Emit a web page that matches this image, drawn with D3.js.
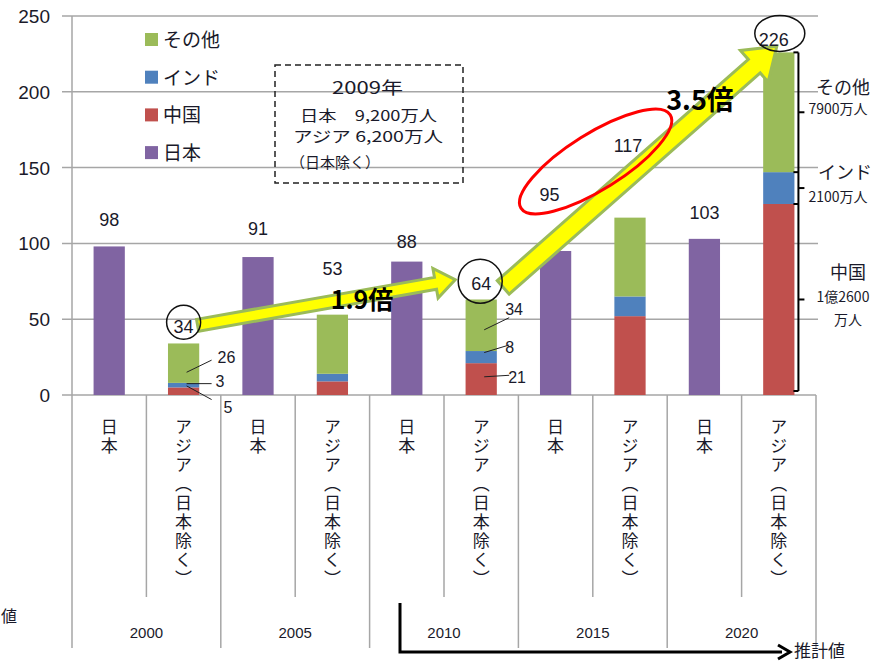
<!DOCTYPE html>
<html>
<head>
<meta charset="utf-8">
<script src="https://cdn.jsdelivr.net/npm/d3@7"></script>
<style>
body { margin:0; background:#fff; }
svg text { font-family: "Liberation Sans", "Noto Sans CJK JP", sans-serif; fill:#1a1a2a; }
.jp { font-family: "Noto Sans CJK JP", sans-serif; }
</style>
</head>
<body>
<div id="graph"></div>
<script>
// data
var years = ['2000', '2005', '2010', '2015', '2020']
var japan = [98, 91, 88, 95, 103]
var china = [5, 9, 21, 52, 126]
var india = [3, 5, 8, 13, 21]
var other = [26, 39, 34, 52, 79]
var asiaTotals = [34, 53, 64, 117, 226]
var seriesNames = ['その他', 'インド', '中国', '日本']
var yTicks = [0, 50, 100, 150, 200, 250]
var catLabelJp = '日本'
var catLabelAsia = 'アジア（日本除く）'

var colors = { '日本':'#8064A2', '中国':'#C0504D', 'インド':'#4F81BD', 'その他':'#9BBB59' }

var W = 875, H = 662
var svg = d3.select('#graph').append('svg')
	.attr('width', W).attr('height', H)

var cats = []
years.forEach(function(y){ cats.push(y + '-jp'); cats.push(y + '-as') })

var x = d3.scaleBand().domain(cats).range([72, 816]).paddingInner(0.58).paddingOuter(0.29)
var y = d3.scaleLinear().domain([0, 250]).range([395, 16])
var step = x.step()
function xc(c){ return x(c) + x.bandwidth()/2 }
function edge(i){ return 72 + i*step }

// gridlines + y labels
svg.append('g').selectAll('line').data(yTicks.slice(1)).enter().append('line')
	.attr('x1', 62).attr('x2', 818)
	.attr('y1', function(d){ return y(d) }).attr('y2', function(d){ return y(d) })
	.attr('stroke', '#a6a6a6').attr('stroke-width', 1.5)
svg.append('line').attr('x1', 62).attr('x2', 816).attr('y1', y(0)).attr('y2', y(0))
	.attr('stroke', '#a6a6a6').attr('stroke-width', 1.5)
svg.append('line').attr('x1', 72).attr('x2', 72).attr('y1', y(250)).attr('y2', y(0))
	.attr('stroke', '#a6a6a6').attr('stroke-width', 1.5)
svg.append('g').selectAll('text').data(yTicks).enter().append('text')
	.attr('x', 50).attr('y', function(d){ return y(d) + 7 })
	.attr('text-anchor', 'end').attr('font-size', 19)
	.text(function(d){ return d })

// category dividers
for (var i = 0; i <= cats.length; i++) {
	svg.append('line').attr('x1', edge(i)).attr('x2', edge(i))
		.attr('y1', y(0)).attr('y2', i % 2 == 0 ? 648 : 597)
		.attr('stroke', '#a6a6a6').attr('stroke-width', 1.5)
}
years.forEach(function(yr, i){
	svg.append('text').attr('x', edge(i*2+1)).attr('y', 638)
		.attr('text-anchor', 'middle').attr('font-size', 15).text(yr)
})
// vertical labels
cats.forEach(function(c){
	var label = c.indexOf('-jp') > 0 ? catLabelJp : catLabelAsia
	svg.append('text').attr('class', 'jp')
		.attr('x', xc(c)).attr('y', 418)
		.style('writing-mode', 'vertical-rl')
		.style('letter-spacing', '2px')
		.attr('font-size', 17)
		.text(label)
})

// bars
var bars = svg.append('g')
years.forEach(function(yr, i){
	var cj = yr + '-jp', ca = yr + '-as'
	bars.append('rect').attr('x', x(cj)).attr('width', x.bandwidth())
		.attr('y', y(japan[i])).attr('height', y(0) - y(japan[i]))
		.attr('fill', colors['日本'])
	var base = 0
	;[['中国', china[i]], ['インド', india[i]], ['その他', other[i]]].forEach(function(s){
		bars.append('rect').attr('x', x(ca)).attr('width', x.bandwidth())
			.attr('y', y(base + s[1])).attr('height', y(base) - y(base + s[1]))
			.attr('fill', colors[s[0]])
		base += s[1]
	})
})

// legend
seriesNames.forEach(function(n, i){
	var ly = 40 + i*37.7
	svg.append('rect').attr('x', 145).attr('y', ly - 7).attr('width', 13).attr('height', 13).attr('fill', colors[n])
	svg.append('text').attr('class', 'jp').attr('x', 163).attr('y', ly + 7).attr('font-size', 19).text(n)
})

// note box
svg.append('rect').attr('x', 275).attr('y', 65).attr('width', 188).attr('height', 118)
	.attr('fill', 'none').attr('stroke', '#222').attr('stroke-width', 1.5).attr('stroke-dasharray', '6,4')
var note = [['2009年', 332, 94, 17, 71], ['日本　9,200万人', 300, 121, 15, 137], ['アジア 6,200万人', 293, 142, 15, 150], ['（日本除く）', 290, 168, 15, 90]]
note.forEach(function(t){
	svg.append('text').attr('class', 'jp').attr('x', t[1]).attr('y', t[2])
		.attr('font-size', t[3]).attr('textLength', t[4]).attr('lengthAdjust', 'spacingAndGlyphs')
		.text(t[0])
})

// arrows
function arrow(x0, y0, x1, y1, bw, hw, hl) {
	var dx = x1 - x0, dy = y1 - y0, L = Math.sqrt(dx*dx + dy*dy)
	var ux = dx/L, uy = dy/L, nx = -uy, ny = ux
	var bx = x1 - ux*hl, by = y1 - uy*hl
	var pts = [
		[x0 + nx*bw/2, y0 + ny*bw/2], [bx + nx*bw/2, by + ny*bw/2], [bx + nx*hw/2, by + ny*hw/2],
		[x1, y1], [bx - nx*hw/2, by - ny*hw/2], [bx - nx*bw/2, by - ny*bw/2], [x0 - nx*bw/2, y0 - ny*bw/2]
	]
	svg.append('path').attr('d', d3.line()(pts) + 'Z')
		.attr('fill', '#FFFF00').attr('stroke', '#9BBB59').attr('stroke-width', 3).attr('stroke-linejoin', 'miter')
}
arrow(xc('2000-as') + 14, y(46), xc('2010-as') - 26, y(76), 12, 30, 20)
arrow(xc('2010-as') + 22, y(71), xc('2020-as') - 2, y(230), 18, 42, 30)

svg.append('text').attr('class', 'jp').attr('x', 362).attr('y', 309).attr('text-anchor', 'middle')
	.attr('font-size', 25).attr('font-weight', 'bold').style('fill', '#000').text('1.9倍')
svg.append('text').attr('class', 'jp').attr('x', 700).attr('y', 110).attr('text-anchor', 'middle')
	.attr('font-size', 27).attr('font-weight', 'bold').style('fill', '#000').text('3.5倍')

// value labels
var jpOff = [-20, -22, -14, -50, -20]
var asOff = [-10, -40, -8, -66, -6]
years.forEach(function(yr, i){
	svg.append('text').attr('x', xc(yr + '-jp') + (i == 3 ? -6 : 0)).attr('y', y(japan[i]) + jpOff[i])
		.attr('text-anchor', 'middle').attr('font-size', 18).text(japan[i])
	svg.append('text').attr('x', xc(yr + '-as') + (i == 3 ? -2 : i == 4 ? -5 : 0)).attr('y', y(asiaTotals[i]) + asOff[i])
		.attr('text-anchor', 'middle').attr('font-size', 18).text(asiaTotals[i])
})

// circles
svg.append('circle').attr('cx', xc('2000-as')).attr('cy', y(48)).attr('r', 17)
	.attr('fill', 'none').attr('stroke', '#111').attr('stroke-width', 1.5)
svg.append('circle').attr('cx', xc('2010-as') - 1).attr('cy', y(75)).attr('r', 22)
	.attr('fill', 'none').attr('stroke', '#111').attr('stroke-width', 1.5)
svg.append('ellipse').attr('cx', xc('2020-as') + 1).attr('cy', y(238.5)).attr('rx', 25).attr('ry', 18)
	.attr('fill', 'none').attr('stroke', '#111').attr('stroke-width', 1.5)
svg.append('ellipse').attr('cx', 0).attr('cy', 0).attr('rx', 88).attr('ry', 28)
	.attr('transform', 'translate(' + (xc('2015-jp') + 40) + ',' + y(154) + ') rotate(-32)')
	.attr('fill', 'none').attr('stroke', '#ff0000').attr('stroke-width', 3)

// segment labels with leaders
function seg(c, v0, v1, lx, ly, label) {
	var cx = xc(c)
	svg.append('line').attr('x1', cx + 3).attr('y1', y(v0)).attr('x2', cx + 28).attr('y2', y(v1))
		.attr('stroke', '#222').attr('stroke-width', 1)
	svg.append('text').attr('x', cx + lx).attr('y', y(ly)).attr('font-size', 16).text(label)
}
seg('2000-as', 15, 23, 34, 21, '26')
seg('2000-as', 7.5, 7.5, 32, 5, '3')
seg('2000-as', 6, -3, 40, -12, '5')
seg('2010-as', 43, 51, 24, 53, '34')
seg('2010-as', 28, 33, 24, 28, '8')
seg('2010-as', 12, 13, 27, 8, '21')

// brace on 2020
var bx = x('2020-as') + x.bandwidth() + 4
var asiaTop = asiaTotals[4]
svg.append('line').attr('x1', bx).attr('x2', bx).attr('y1', y(asiaTop)).attr('y2', y(0) - 4)
	.attr('stroke', '#000').attr('stroke-width', 2)
;[0, china[4], china[4] + india[4], asiaTop].forEach(function(v){
	var ty = y(v) - (v == 0 ? 4 : 0)
	svg.append('line').attr('x1', bx - 5).attr('x2', bx).attr('y1', ty).attr('y2', ty)
		.attr('stroke', '#000').attr('stroke-width', 2)
})
;[china[4]/2, china[4] + india[4]/2, china[4] + india[4] + other[4]/2].forEach(function(v){
	svg.append('line').attr('x1', bx).attr('x2', bx + 6).attr('y1', y(v)).attr('y2', y(v))
		.attr('stroke', '#000').attr('stroke-width', 2)
})
var rl = [['その他', 843, 94, 18], ['7900万人', 838, 114, 14], ['インド', 845, 179, 18], ['2100万人', 838, 202, 14],
	['中国', 848, 279, 18], ['1億2600', 843, 302, 14], ['万人', 848, 325, 14]]
rl.forEach(function(t){
	svg.append('text').attr('class', 'jp').attr('x', t[1]).attr('y', t[2]).attr('text-anchor', 'middle')
		.attr('font-size', t[3]).text(t[0])
})

// estimate arrow
svg.append('path').attr('d', 'M400,603 L400,652 L782,652').attr('fill', 'none').attr('stroke', '#000').attr('stroke-width', 3)
svg.append('path').attr('d', 'M778,645 L790,652 L778,659').attr('fill', 'none').attr('stroke', '#000').attr('stroke-width', 3)
svg.append('text').attr('class', 'jp').attr('x', 794).attr('y', 657).attr('font-size', 17).text('推計値')
svg.append('text').attr('class', 'jp').attr('x', 1).attr('y', 622).attr('font-size', 16).text('値')
</script>
</body>
</html>
